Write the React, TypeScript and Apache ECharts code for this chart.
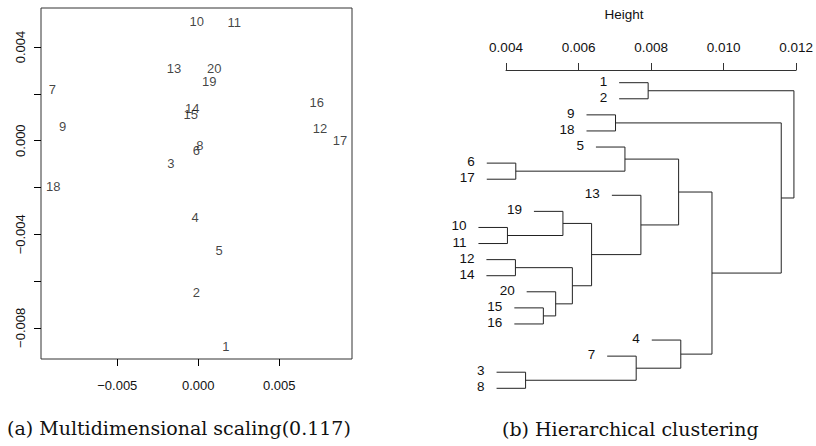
import React, { useEffect, useRef } from "react";
import * as echarts from "echarts";

// ---- Panel (a): multidimensional scaling ----
const mdsLabels = ["1","2","3","4","5","6","7","8","9","10","11","12","13","14","15","16","17","18","19","20"];
const mdsX = [0.00171,-0.00012,-0.0017,-0.00019,0.00128,-0.00012,-0.00901,0.0001,-0.00837,-0.0001,0.00222,0.00751,-0.0015,-0.00037,-0.00047,0.00731,0.00875,-0.00895,0.00068,0.00099];
const mdsY = [-0.0088,-0.00648,-0.00097,-0.00329,-0.00471,-0.00043,0.00217,-0.00021,0.00059,0.00509,0.00506,0.0005,0.00309,0.00138,0.00113,0.00164,0.0,-0.00194,0.00255,0.00309];
const mdsXTicks = [-0.005, 0, 0.005];
const mdsYTicks = [-0.008, -0.006, -0.004, -0.002, 0, 0.002, 0.004];
const mdsYLabels = [-0.008, -0.004, 0, 0.004];

// ---- Panel (b): hierarchical clustering (hclust-style merge table) ----
const leafLabels = ["1","2","3","4","5","6","7","8","9","10","11","12","13","14","15","16","17","18","19","20"];
const mergeLeft = [-10,-12,-6,-3,-15,-20,-19,2,7,-9,-5,-7,-13,-1,11,-4,15,10,14];
const mergeRight = [-11,-14,-17,-8,-16,5,1,6,8,-18,3,4,9,-2,13,12,16,17,18];
const mergeHeight = [0.00404,0.00426,0.00427,0.00454,0.00503,0.00537,0.00557,0.00583,0.00636,0.00702,0.00728,0.00759,0.00772,0.00792,0.00876,0.00882,0.00968,0.01159,0.01194];
const hang = 0.0008;
const heightTicks = [0.004, 0.006, 0.008, 0.010, 0.012];

const FONT = "Liberation Sans, Arial, Helvetica, sans-serif";
const SERIF = "DejaVu Serif, Liberation Serif, serif";

function fmt(v: number) {
  const s = Math.abs(v).toFixed(3);
  return v < 0 ? "\u2212" + s : s;
}

function buildDendrogram() {
  const order: number[] = [];
  const visit = (n: number) => {
    if (n < 0) { order.push(-n); return; }
    visit(mergeLeft[n - 1]);
    visit(mergeRight[n - 1]);
  };
  visit(mergeLeft.length);
  const leafPos: Record<number, number> = {};
  order.forEach((l, i) => (leafPos[l] = i));
  const nodeY: number[] = [];
  const yOf = (n: number): number => (n < 0 ? leafPos[-n] : nodeY[n - 1]);
  const segs: number[][] = [];
  const leaves: any[] = [];
  for (let i = 0; i < mergeLeft.length; i++) {
    const h = mergeHeight[i];
    const kids = [mergeLeft[i], mergeRight[i]];
    const ys = kids.map(yOf);
    kids.forEach((c, k) => {
      const start = c < 0 ? h - hang : mergeHeight[c - 1];
      segs.push([start, ys[k], h, ys[k]]);
      if (c < 0) leaves.push([start, ys[k], leafLabels[-c - 1]]);
    });
    segs.push([h, ys[0], h, ys[1]]);
    nodeY[i] = (ys[0] + ys[1]) / 2;
  }
  return { segs, leaves, n: order.length };
}

export default function App() {
  const ref = useRef<HTMLDivElement>(null);
  useEffect(() => {
    if (!ref.current) return;
    const chart = echarts.init(ref.current, undefined, { renderer: "svg" });
    const dendro = buildDendrogram();
    const lineColor = "#222";
    chart.setOption({
      animation: false,
      textStyle: { fontFamily: FONT },
      grid: [
        { left: 41, top: 8, width: 311, height: 351, show: true, borderColor: "#333", borderWidth: 1, backgroundColor: "transparent" },
        { left: 506, top: 82.7, width: 291.3, height: 305.6 },
      ],
      xAxis: [
        {
          gridIndex: 0, type: "value", min: -0.00971, max: 0.00949,
          axisLine: { show: false, onZero: false },
          axisTick: { show: true, length: 7, lineStyle: { color: "#000" }, customValues: mdsXTicks },
          axisLabel: { customValues: mdsXTicks, formatter: (v: number) => fmt(v), fontSize: 13, color: "#111", margin: 20, fontFamily: FONT },
          splitLine: { show: false },
        },
        {
          gridIndex: 1, type: "value", position: "top", offset: 12.7,
          min: 0.004, max: 0.012, interval: 0.002,
          axisLine: { show: true, onZero: false, lineStyle: { color: "#333", width: 1 } },
          axisTick: { show: true, length: 7, lineStyle: { color: "#333" }, customValues: heightTicks },
          axisLabel: { customValues: heightTicks, formatter: (v: number) => v.toFixed(3), fontSize: 13.5, color: "#111", margin: 16, fontFamily: FONT },
          splitLine: { show: false },
        },
      ],
      yAxis: [
        {
          gridIndex: 0, type: "value", min: -0.00933, max: 0.00567,
          axisLine: { show: false, onZero: false },
          axisTick: { show: true, length: 7, lineStyle: { color: "#000" }, customValues: mdsYTicks },
          axisLabel: { customValues: mdsYLabels, rotate: 90, formatter: (v: number) => fmt(v), fontSize: 13, color: "#111", margin: 14, fontFamily: FONT },
          splitLine: { show: false },
        },
        { gridIndex: 1, type: "value", min: 0, max: dendro.n - 1, inverse: true, show: false, axisLine: { onZero: false } },
      ],
      series: [
        {
          type: "scatter", xAxisIndex: 0, yAxisIndex: 0, symbolSize: 0,
          data: mdsX.map((x, i) => ({ value: [x, mdsY[i]], name: mdsLabels[i] })),
          label: { show: true, position: "inside", formatter: (p: any) => p.name, fontSize: 13, color: "#111", fontFamily: FONT },
          emphasis: { disabled: true },
        },
        {
          type: "custom", xAxisIndex: 1, yAxisIndex: 1, clip: false,
          data: dendro.segs,
          renderItem: (params: any, api: any) => {
            const p1 = api.coord([api.value(0), api.value(1)]);
            const p2 = api.coord([api.value(2), api.value(3)]);
            return { type: "line", shape: { x1: p1[0], y1: p1[1], x2: p2[0], y2: p2[1] }, style: { stroke: lineColor, lineWidth: 1 } };
          },
        },
        {
          type: "custom", xAxisIndex: 1, yAxisIndex: 1, clip: false,
          data: dendro.leaves,
          renderItem: (params: any, api: any) => {
            const p = api.coord([api.value(0), api.value(1)]);
            const d = dendro.leaves[params.dataIndex];
            return { type: "text", x: p[0] - 12, y: p[1] - 1.5, style: { text: d[2], textAlign: "right", textVerticalAlign: "middle", fontSize: 13.5, fill: "#111", fontFamily: FONT } };
          },
        },
      ],
      graphic: [
        { type: "text", x: 624, y: 14, style: { text: "Height", textAlign: "center", textVerticalAlign: "middle", fontSize: 13.5, fill: "#111", fontFamily: FONT } },
        { type: "text", x: 7, y: 428, style: { text: "(a) Multidimensional scaling(0.117)", textAlign: "left", textVerticalAlign: "middle", fontSize: 19, fill: "#111", fontFamily: SERIF } },
        { type: "text", x: 502, y: 429, style: { text: "(b) Hierarchical clustering", textAlign: "left", textVerticalAlign: "middle", fontSize: 19, fill: "#111", fontFamily: SERIF } },
      ],
    });
    return () => chart.dispose();
  }, []);
  return <div ref={ref} style={{ position: "absolute", left: 0, top: 0, width: 816, height: 446 }} />;
}
